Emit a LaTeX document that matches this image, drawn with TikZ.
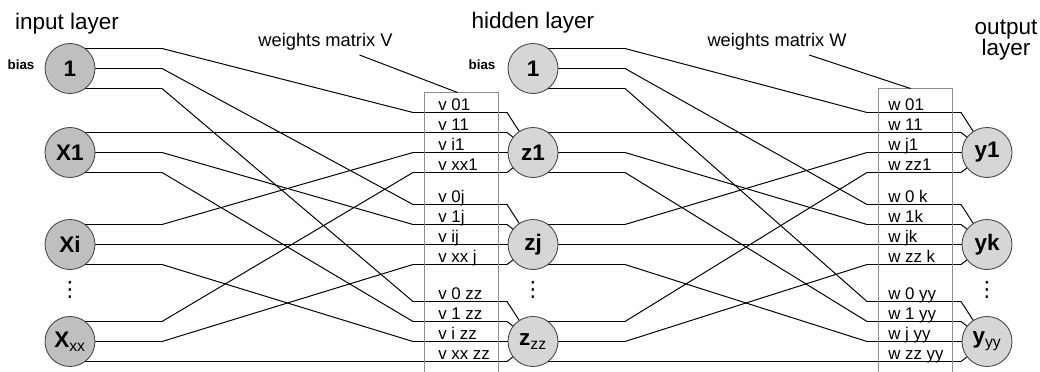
\documentclass[tikz,border=0pt]{standalone}
\usepackage{fontspec}
\setmainfont{Liberation Sans}
\newfontfamily\symfont{DejaVu Sans}
\usepackage{tikz}
\usetikzlibrary{backgrounds}
\definecolor{inputgray}{rgb}{0.75,0.75,0.75}
\definecolor{hiddengray}{rgb}{0.84,0.84,0.84}
\definecolor{edgegray}{rgb}{0.25,0.25,0.25}
\definecolor{boxgray}{rgb}{0.55,0.55,0.55}

\begin{document}
\begin{tikzpicture}[node distance=2.3cm,
	neuron/.style={circle, draw=edgegray, line width=0.6pt, minimum size=1.25cm, inner sep=0pt, outer sep=0pt, font=\bfseries\fontsize{16}{16}\selectfont},
	wire/.style={line width=0.7pt},
	matbox/.style={draw=boxgray, line width=0.7pt, minimum width=1.85cm, anchor=north, inner sep=0pt},
	rowlabel/.style={anchor=base west, inner sep=0pt, font=\fontsize{12}{12}\selectfont},
	layertitle/.style={align=center, font=\fontsize{16}{15}\selectfont},
	calltext/.style={font=\fontsize{13}{13}\selectfont},
	biaslabel/.style={font=\bfseries\fontsize{9.5}{9.5}\selectfont},
	dotlabel/.style={inner sep=0pt, font=\symfont\fontsize{15}{15}\selectfont}]
	\useasboundingbox (0,0) rectangle (26,-9.3);

	\node [neuron, fill=inputgray] (in0) at (1.75,-1.7125) {1};
	\node [neuron, fill=inputgray, below of=in0, yshift=0.2cm] (x1) {X1};
	\node [neuron, fill=inputgray, below of=x1] (xi) {Xi};
	\node [neuron, fill=inputgray, below of=xi, yshift=-0.125cm] (xx) {X\textsubscript{\mdseries xx}};
	\node [dotlabel, below of=xi, yshift=1.175cm] (indots) {⋮};
	\node [layertitle, above of=in0, yshift=-1.175cm, xshift=-0.075cm] (intitle) {input layer};
	\node [biaslabel, left of=in0, xshift=1.075cm, yshift=0.1cm] (inbias) {bias};

	\node [neuron, fill=hiddengray, right of=in0, xshift=9.275cm] (h0) {1};
	\node [neuron, fill=hiddengray, right of=x1, xshift=9.275cm] (h1) {z1};
	\node [neuron, fill=hiddengray, right of=xi, xshift=9.275cm] (hj) {zj};
	\node [neuron, fill=hiddengray, right of=xx, xshift=9.275cm] (hz) {z\textsubscript{\mdseries zz}};
	\node [dotlabel, below of=hj, yshift=1.175cm] (hdots) {⋮};
	\node [layertitle, above of=h0, yshift=-1.15cm] (htitle) {hidden layer};
	\node [biaslabel, left of=h0, xshift=1.025cm, yshift=0.1cm] (hbias) {bias};

	\node [neuron, fill=hiddengray, right of=h1, xshift=9.05cm] (o1) {y1};
	\node [neuron, fill=hiddengray, right of=hj, xshift=9.05cm] (ok) {yk};
	\node [neuron, fill=hiddengray, right of=hz, xshift=9.05cm] (oy) {y\textsubscript{\mdseries yy}};
	\node [dotlabel, below of=ok, yshift=1.175cm] (odots) {⋮};
	\node [layertitle, above of=o1, yshift=0.5cm, xshift=0.475cm] (otitle) {output\\layer};

	\node [matbox, minimum height=7cm] (vbox) at ([xshift=-1.7875cm, yshift=-0.6cm]h0.center) {};
	\node [matbox, minimum height=7.1cm] (wbox) at ([xshift=-1.7875cm, yshift=1.6cm]o1.center) {};
	\node [calltext] (vname) at ([xshift=-3.4cm, yshift=1.275cm]vbox.north) {weights matrix V};
	\node [calltext] (wname) at ([xshift=-3.46cm, yshift=1.175cm]wbox.north) {weights matrix W};
	\draw [wire] ([xshift=0.85cm]vname.south) -- ([xshift=-0.1cm]vbox.north);
	\draw [wire] ([xshift=0.8cm]wname.south) -- ([xshift=-0.125cm]wbox.north);

	\begin{scope}[on background layer]
	\foreach \s/\r in {in0/2, x1/1, xi/0, xx/-1}
		\foreach \t/\a in {h1/1, hj/0, hz/-1}
			\draw [wire] ([yshift=\a*0.5cm]\s.center) -- ([xshift=2.3cm, yshift=\a*0.5cm]\s.center) -- ([xshift=-3cm, yshift=\r*0.5cm]\t.center) -- ([xshift=-0.65cm, yshift=\r*0.5cm]\t.center) -- (\t.center);
	\foreach \s/\r in {h0/2, h1/1, hj/0, hz/-1}
		\foreach \t/\a in {o1/1, ok/0, oy/-1}
			\draw [wire] ([yshift=\a*0.5cm]\s.center) -- ([xshift=2.3cm, yshift=\a*0.5cm]\s.center) -- ([xshift=-3cm, yshift=\r*0.5cm]\t.center) -- ([xshift=-0.65cm, yshift=\r*0.5cm]\t.center) -- (\t.center);
	\end{scope}

	\foreach \t/\r/\txt in {h1/2/v 01, h1/1/v 11, h1/0/v i1, h1/-1/v xx1, hj/2/v 0j, hj/1/v 1j, hj/0/v ij, hj/-1/v xx j, hz/2/v 0 zz, hz/1/v 1 zz, hz/0/v i zz, hz/-1/v xx zz}
		\node [rowlabel] (v\t\r) at ([xshift=-2.375cm, yshift=\r*0.5cm+0.05cm]\t.center) {\txt};
	\foreach \t/\r/\txt in {o1/2/w 01, o1/1/w 11, o1/0/w j1, o1/-1/w zz1, ok/2/w 0 k, ok/1/w 1k, ok/0/w jk, ok/-1/w zz k, oy/2/w 0 yy, oy/1/w 1 yy, oy/0/w j yy, oy/-1/w zz yy}
		\node [rowlabel] (w\t\r) at ([xshift=-2.475cm, yshift=\r*0.5cm+0.05cm]\t.center) {\txt};
\end{tikzpicture}
\end{document}
